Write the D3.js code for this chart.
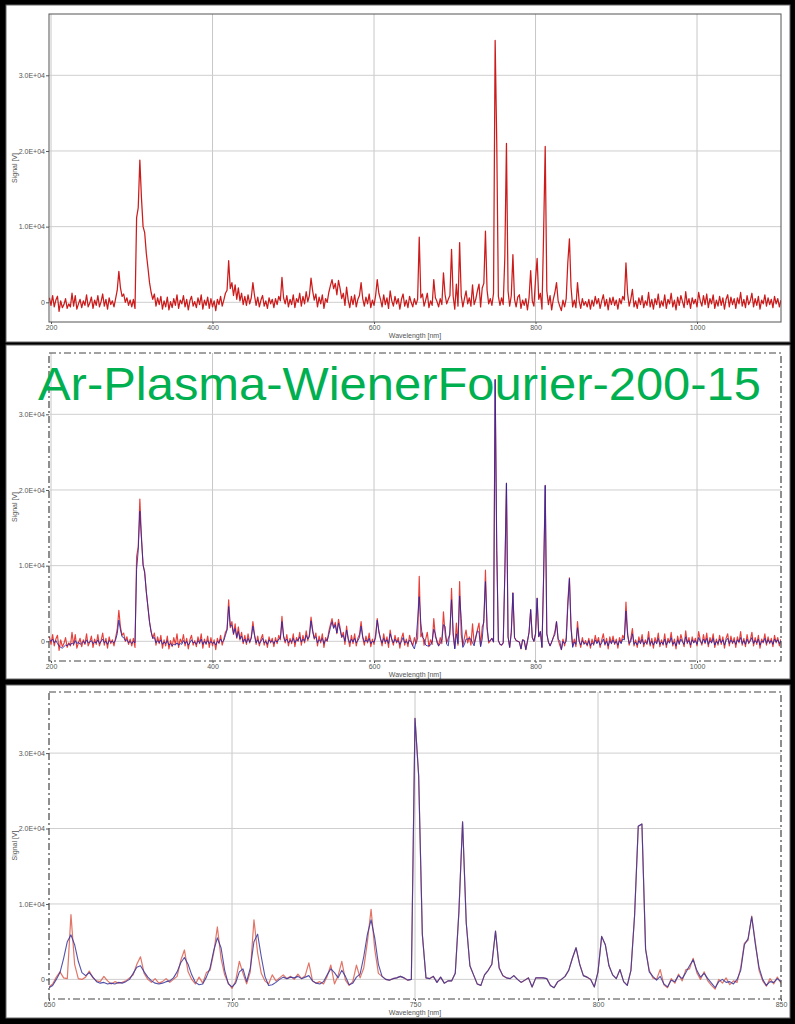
<!DOCTYPE html>
<html><head><meta charset="utf-8">
<script src="https://cdn.jsdelivr.net/npm/d3@7"></script>
<style>html,body{margin:0;padding:0;background:#000;} svg{display:block;}</style>
</head><body>
<svg id="c" width="795" height="1024"></svg>
<script>
// ---------------- DATA (signal in units of 1e3 V) ----------------
// Raw spectrum, 2 nm grid starting at 198 nm
const rawStart = 198, rawStep = 2;
const rawA = [ // 198-396 nm
 0.6,-0.4,0.9,-0.6,0.3,0.8,-1.2,0.2,-0.7,-0.3,0.5,-0.8,-0.2,-0.6,1.2,-0.5,0.9,-0.9,-0.2,0.4,-0.7,0.2,-0.4,1.0,-0.6,
 -0.1,0.7,-0.8,0.3,-0.4,0.9,-0.6,0.1,1.1,-0.5,0.4,-0.9,0.6,-0.3,0.2,-0.6,0.5,1.6,4.1,1.9,0.8,1.1,0.0,0.6,-0.4,
 0.3,-0.6,0.4,-0.8,11.2,12.5,18.8,13.8,10.0,9.2,6.5,4.6,2.6,1.3,0.4,1.1,-0.5,0.6,-0.3,0.8,-0.9,0.2,-0.6,0.7,-1.0,
 0.1,-0.7,0.5,-0.4,1.0,-0.8,0.3,-0.2,0.9,-0.6,0.4,-1.0,0.2,0.8,-0.5,0.1,-0.7,0.6,-0.3,1.0,-0.9,0.3,-0.4,0.7,-0.8];
const rawB = [ // 398-596 nm
 0.5,-0.6,0.2,-1.1,0.4,-0.3,0.8,-0.5,0.3,1.2,1.6,5.5,1.8,2.6,0.9,2.3,0.4,1.9,0.2,1.2,-0.3,0.8,-0.4,1.0,-0.2,
 0.6,2.6,0.9,-0.4,0.7,-0.6,0.3,0.9,-0.5,0.2,-0.8,0.6,-0.2,0.4,-0.7,0.5,-0.3,0.8,0.2,3.3,0.6,-0.2,0.9,-0.6,0.4,
 -0.3,1.0,-0.7,0.5,0.0,1.2,-0.5,0.8,-0.2,1.4,0.1,0.9,3.2,1.5,0.3,1.1,-0.6,0.7,-0.2,1.0,-0.8,0.5,0.0,1.3,2.2,
 3.0,1.8,2.5,1.0,2.9,1.8,0.5,1.2,-0.4,2.0,0.3,-0.7,0.8,-0.3,1.0,-0.6,0.4,0.9,2.6,0.5,-0.5,0.7,-0.2,1.1,-0.7];
const rawC = [ // 598-796 nm
 0.3,-0.4,0.9,3.0,1.2,0.4,-0.6,1.0,-0.3,0.6,-0.8,1.5,0.2,-0.5,0.8,-0.2,0.5,-0.9,0.4,1.1,-0.5,0.3,-0.7,0.8,0.0,
 -0.6,0.5,-0.3,0.4,8.6,0.6,1.1,-0.5,0.3,1.2,-0.7,0.2,-0.4,3.0,0.6,0.1,-0.6,0.5,-0.3,3.9,1.0,-0.2,0.4,0.9,7.0,
 0.8,-0.9,2.4,-0.5,7.9,0.9,-0.6,0.5,1.5,-0.2,0.6,-0.5,2.3,-0.3,0.4,1.5,2.4,-0.6,1.9,2.5,9.4,1.6,-0.2,0.5,-0.4,
 1.2,34.6,21.0,0.8,-0.4,0.6,-0.3,6.0,21.0,1.5,-0.5,0.9,6.3,0.4,-0.6,0.7,1.0,-0.8,0.3,-0.4,0.5,-1.0,0.6,4.2,0.2];
const rawD = [ // 798-996 nm
 -0.5,3.0,5.8,0.4,1.2,-0.9,9.0,20.6,1.5,-0.3,0.9,-1.0,0.4,1.3,2.6,0.2,-0.5,-1.1,0.3,-0.6,0.5,5.3,8.4,2.0,-0.6,
 0.3,-0.7,2.6,0.2,-0.8,0.5,-0.4,0.1,-0.6,0.4,-0.9,0.3,-0.5,0.8,-0.2,0.5,-0.8,0.2,1.0,-0.5,0.4,-1.0,0.6,-0.3,0.7,
 -0.4,0.3,-0.9,0.5,-0.2,0.8,0.3,5.2,1.2,-0.5,0.4,1.7,-0.6,0.2,-0.8,0.6,-0.3,0.9,-0.7,0.2,-0.4,1.3,-0.6,0.4,-0.9,
 0.5,-0.3,1.1,-0.7,0.2,-0.5,1.0,-0.8,0.4,-0.2,1.2,-0.6,0.3,-1.0,0.7,-0.4,0.9,0.1,-0.7,1.4,-0.3,0.5,-0.8,0.6,-0.2];
const rawE = [ // 998-1104 nm
 0.4,-0.6,1.3,0.2,-0.5,0.9,-0.3,1.1,-0.7,0.5,-0.2,1.0,-0.8,0.3,-0.5,0.8,-0.4,0.6,-0.9,0.4,1.0,-0.6,0.7,-0.3,0.5,
 -0.8,0.6,-0.2,1.3,-0.5,0.4,-0.7,0.9,-0.3,0.2,1.2,-0.6,0.5,-0.4,0.8,-0.9,0.3,-0.2,1.0,-0.5,0.6,-0.3,0.4,-0.7,0.8,
 -0.2,0.5,-0.6,0.3];

// Wiener/Fourier filtered spectrum, same 2 nm grid
const filtA = [
 0.2,0.0,0.3,-0.2,0.1,-0.3,-0.6,-0.8,-0.9,-0.7,-0.5,-0.6,-0.3,-0.5,-0.2,-0.4,0.1,-0.3,-0.1,-0.4,-0.2,0.0,-0.3,0.2,-0.2,
 -0.1,0.1,-0.3,-0.1,-0.2,0.2,-0.3,0.0,0.3,-0.2,0.0,-0.4,0.1,-0.1,0.0,-0.2,0.2,1.0,2.8,1.5,0.6,0.5,0.1,0.2,-0.2,
 0.0,-0.3,0.0,-0.2,9.5,12.0,17.2,13.5,10.2,9.0,6.6,4.5,2.5,1.2,0.4,0.5,-0.2,0.1,-0.2,0.2,-0.4,-0.1,-0.3,0.1,-0.5,
 -0.3,-0.6,-0.4,-0.5,-0.2,-0.5,-0.3,-0.4,0.1,-0.3,0.0,-0.5,-0.2,0.2,-0.2,-0.1,-0.4,0.1,-0.2,0.3,-0.4,0.0,-0.3,0.1,-0.3];
const filtB = [
 0.0,-0.3,-0.1,-0.5,0.0,-0.2,0.3,-0.1,0.1,0.8,1.5,4.6,2.0,2.1,1.0,1.7,0.5,1.3,0.3,0.7,-0.1,0.3,-0.2,0.4,-0.1,
 0.4,2.0,0.8,-0.2,0.2,-0.3,0.0,0.4,-0.2,0.0,-0.4,0.2,-0.1,0.1,-0.3,0.1,-0.1,0.3,0.4,2.6,0.7,0.0,0.3,-0.2,0.1,
 -0.1,0.4,-0.2,0.2,0.1,0.6,-0.1,0.3,0.0,0.8,0.3,0.6,2.7,1.3,0.4,0.6,-0.2,0.2,0.0,0.4,-0.3,0.2,0.1,0.9,1.8,
 2.6,1.7,2.2,1.1,2.4,1.5,0.6,0.8,0.0,1.5,0.4,-0.2,0.3,-0.1,0.4,-0.2,0.1,0.5,2.0,0.6,-0.1,0.2,-0.1,0.4,-0.3];
const filtC = [
 0.0,-0.1,0.5,2.8,1.4,0.3,-0.2,0.4,-0.1,0.2,-0.3,1.0,0.3,-0.2,0.3,-0.1,0.1,-0.4,0.0,0.5,-0.2,0.0,-0.3,0.2,-0.1,
 -0.6,-1.0,0.0,2.8,5.9,2.4,0.5,0.3,-0.5,-0.6,-0.6,-0.5,0.0,1.6,1.0,-0.2,-0.6,-0.3,0.2,2.2,2.0,-0.4,-0.6,1.5,5.5,
 1.2,-1.0,1.0,-0.3,6.0,3.0,-0.8,-0.4,0.3,0.3,0.4,0.3,-0.2,-0.6,0.6,1.4,1.2,-0.7,0.3,3.0,7.9,2.0,0.0,0.1,0.4,
 -0.1,34.6,12.0,0.1,-0.4,-0.5,-0.2,9.0,20.9,0.6,-0.8,1.2,6.4,0.5,0.1,0.0,-0.1,-1.0,0.2,0.1,-1.1,0.0,1.2,4.2,0.5];
const filtD = [
 0.0,1.0,5.7,0.6,1.3,-0.8,8.5,20.6,1.0,-0.1,-0.6,-0.1,0.5,0.9,2.6,0.3,0.1,-1.1,0.0,-0.3,0.0,4.6,8.3,1.6,-0.8,
 -0.1,-0.4,1.8,0.0,-0.5,0.1,-0.3,-0.2,-0.5,0.1,-0.6,-0.2,-0.4,0.2,-0.3,0.1,-0.5,-0.2,0.3,-0.4,0.0,-0.6,0.1,-0.3,0.2,
 -0.3,0.0,-0.5,0.1,-0.3,0.3,0.2,4.0,0.8,-0.3,0.0,1.0,-0.4,-0.1,-0.5,0.1,-0.3,0.3,-0.4,-0.1,-0.3,0.5,-0.4,0.0,-0.5,
 0.0,-0.3,0.4,-0.4,-0.1,-0.4,0.3,-0.5,0.0,-0.2,0.5,-0.4,-0.1,-0.6,0.2,-0.3,0.3,-0.1,-0.4,0.6,-0.2,0.1,-0.5,0.2,-0.2];
const filtE = [
 0.1,-0.4,0.5,0.0,-0.3,0.3,-0.2,0.4,-0.4,0.1,-0.2,0.4,-0.5,0.0,-0.3,0.3,-0.2,0.2,-0.5,0.1,0.4,-0.3,0.2,-0.2,0.1,
 -0.4,0.2,-0.1,0.5,-0.3,0.1,-0.4,0.3,-0.2,0.0,0.5,-0.3,0.1,-0.2,0.3,-0.5,0.0,-0.1,0.4,-0.3,0.2,-0.2,0.1,-0.4,0.3,
 -0.1,0.2,-0.3,0.1];
// range where the two traces coincide in the middle panel
const overlapRange = [744, 822];

// Zoomed region, 1 nm grid 650-850 nm
const zoomStart = 650, zoomStep = 1;
const zoomFilt = [
 -1.1,-0.8,0.0,0.9,2.8,5.0,5.9,4.6,2.4,0.9,
 0.5,0.9,0.3,-0.3,-0.5,-0.4,-0.6,-0.5,-0.6,-0.4,
 -0.5,-0.3,0.0,0.8,1.6,1.8,1.0,0.3,-0.2,-0.5,
 -0.6,-0.5,-0.3,-0.2,0.2,1.0,2.2,2.9,2.0,0.6,
 -0.4,-0.7,-0.6,0.3,1.5,3.8,5.5,4.2,1.2,-0.6,
 -1.0,-0.5,1.0,1.4,-0.3,1.5,5.0,6.0,3.0,0.4,
 -0.8,-0.7,-0.4,0.0,0.3,0.1,0.3,0.2,0.4,0.1,
 0.3,0.5,-0.2,-0.5,-0.6,-0.3,0.6,1.4,0.9,0.2,
 1.2,0.4,-0.7,-0.5,0.3,0.7,3.0,6.0,7.9,5.5,
 2.0,0.4,0.0,-0.1,0.1,0.2,0.4,0.2,-0.1,0.0,
 34.6,27.0,6.0,0.2,0.1,0.4,-0.4,0.3,-0.5,-0.2,
 -0.2,0.8,9.0,20.9,7.5,1.8,0.6,-0.6,-0.8,0.6,
 1.2,2.0,6.4,1.5,0.5,0.2,0.1,0.5,0.0,-0.4,
 -0.1,0.2,-1.0,0.2,0.2,0.2,0.1,-0.8,-1.1,-0.3,
 0.0,0.4,1.2,2.8,4.2,2.0,0.5,0.3,0.0,-1.0,
 1.0,5.7,4.6,1.8,0.6,0.1,1.3,-0.3,-0.8,1.2,
 8.5,20.3,20.6,4.0,1.0,0.4,-0.1,0.4,-0.6,-1.0,
 -0.1,-0.3,0.5,0.1,0.9,1.8,2.6,1.2,0.3,0.8,
 0.1,-0.5,-1.1,-0.3,0.0,-0.4,-0.3,-0.6,0.0,1.2,
 4.6,5.4,8.3,4.6,1.6,0.0,-0.8,-0.3,-0.4,0.1,
 -0.3];
const zoomRawLeft = [ // 650-740 nm
 -1.0,-0.6,0.3,1.0,0.2,0.1,8.6,2.0,0.1,0.0,
 0.3,1.1,0.2,-0.2,-0.3,0.4,-0.2,-0.6,-0.3,-0.5,
 -0.4,-0.2,0.2,0.6,2.0,3.0,0.8,0.0,-0.4,0.1,
 -0.5,-0.3,0.1,-0.4,0.0,0.4,2.5,3.9,1.0,0.0,
 -0.6,0.3,-0.5,0.9,1.2,3.5,6.95,2.8,0.6,-0.5,
 -1.2,-0.2,2.4,0.8,-0.6,1.0,7.9,3.5,0.8,-0.2,
 -0.6,0.6,-0.2,0.2,0.6,0.1,0.4,0.0,0.7,0.1,
 0.5,2.2,-0.2,-0.5,-0.3,-0.6,0.4,1.9,-0.6,0.5,
 2.4,-0.1,-0.8,-0.3,1.9,0.2,1.5,5.0,9.3,4.0,
 0.8];
const zoomRawRight = [ // 814-850 nm
 1.2,0.2,0.0,1.3,-0.7,-1.1,0.1,-0.5,0.7,-0.2,
 1.3,1.4,2.8,0.9,0.0,1.0,-0.2,-0.8,-1.3,0.0,
 -0.5,0.2,-0.7,-0.2,-0.4,1.6,4.8,5.2,8.4,4.9,
 1.2,-0.2,-0.9,0.1,-0.6,0.3,-0.5];

const xTicksFull = [200, 400, 600, 800, 1000];
const xTicksZoom = [650, 700, 750, 800, 850];
const yTickValues = [0, 10, 20, 30];
const yTickLabels = ["0", "1.0E+04", "2.0E+04", "3.0E+04"];
const xTitle = "Wavelength [nm]";
const yTitle = "Signal [V]";
const chartTitle = "Ar-Plasma-WienerFourier-200-15";

// ---------------- assemble series ----------------
const raw = [].concat(rawA, rawB, rawC, rawD, rawE);
const filt = [].concat(filtA, filtB, filtC, filtD, filtE);
const raw2 = raw.map((v, i) => {
  const wl = rawStart + i * rawStep;
  return (wl >= overlapRange[0] && wl <= overlapRange[1]) ? filt[i] : v;
});
const zoomRaw = [].concat(zoomRawLeft, zoomFilt.slice(91, 164), zoomRawRight);

// ---------------- drawing ----------------
const svg = d3.select('#c');
svg.append('rect').attr('width', 795).attr('height', 1024).attr('fill', '#000');

const font = "'Liberation Sans', Arial, sans-serif";
const yDomain = [-2.6, 38.1];

const panels = [
  {bg: [6, 5, 784, 337], l: 49, r: 781, t: 14, b: 322, xd: [197.5, 1104], xt: xTicksFull, dash: false,
   series: [{d: raw, s: rawStart, st: rawStep, c: '#cc1b1b', w: 1.25, o: 1}]},
  {bg: [6, 345, 784, 334], l: 49, r: 781, t: 353, b: 661, xd: [197.5, 1104], xt: xTicksFull, dash: true,
   series: [{d: raw2, s: rawStart, st: rawStep, c: '#e42a24', w: 1.15, o: 0.9},
            {d: filt, s: rawStart, st: rawStep, c: '#2626a8', w: 1.0, o: 0.85}]},
  {bg: [6, 685, 784, 333], l: 49, r: 781, t: 692, b: 999, xd: [650, 850], xt: xTicksZoom, dash: true,
   series: [{d: zoomRaw, s: zoomStart, st: zoomStep, c: '#de6656', w: 1.2, o: 0.9},
            {d: zoomFilt, s: zoomStart, st: zoomStep, c: '#34349c', w: 1.1, o: 0.85}]}
];

panels.forEach((p, pi) => {
  const g = svg.append('g');
  g.append('rect').attr('x', p.bg[0]).attr('y', p.bg[1]).attr('width', p.bg[2]).attr('height', p.bg[3])
    .attr('fill', '#fff').attr('stroke', '#666').attr('stroke-width', 1);
  const x = d3.scaleLinear().domain(p.xd).range([p.l, p.r]);
  const y = d3.scaleLinear().domain(yDomain).range([p.b, p.t]);

  // grid
  g.append('g').selectAll('line').data(p.xt.filter(v => v > p.xd[0] && v < p.xd[1])).join('line')
    .attr('x1', d => x(d)).attr('x2', d => x(d)).attr('y1', p.t).attr('y2', p.b)
    .attr('stroke', '#c8c8c8').attr('stroke-width', 1);
  g.append('g').selectAll('line').data(yTickValues).join('line')
    .attr('x1', p.l).attr('x2', p.r).attr('y1', d => y(d)).attr('y2', d => y(d))
    .attr('stroke', '#cfcfcf').attr('stroke-width', 1);

  // series
  const cid = 'clip' + pi;
  svg.append('clipPath').attr('id', cid).append('rect')
    .attr('x', p.l).attr('y', p.t).attr('width', p.r - p.l).attr('height', p.b - p.t);
  p.series.forEach(s => {
    const line = d3.line().x((d, i) => x(s.s + i * s.st)).y(d => y(d));
    g.append('path').datum(s.d).attr('d', line).attr('fill', 'none')
      .attr('stroke', s.c).attr('stroke-width', s.w).attr('stroke-opacity', s.o)
      .attr('stroke-linejoin', 'round').attr('clip-path', `url(#${cid})`);
  });

  // frame
  g.append('rect').attr('x', p.l).attr('y', p.t).attr('width', p.r - p.l).attr('height', p.b - p.t)
    .attr('fill', 'none').attr('stroke', p.dash ? '#444' : '#555')
    .attr('stroke-width', p.dash ? 1.2 : 1)
    .attr('stroke-dasharray', p.dash ? '7,3,2,3' : null);

  // axes
  const ya = d3.axisLeft(y).tickValues(yTickValues).tickFormat((d, i) => yTickLabels[i]).tickSize(3).tickPadding(1);
  const yg = g.append('g').attr('transform', `translate(${p.l},0)`).call(ya);
  yg.select('.domain').remove();
  yg.selectAll('line').attr('stroke', '#555');
  yg.selectAll('text').attr('font-family', font).attr('font-size', 7).attr('fill', '#555');

  const xa = d3.axisBottom(x).tickValues(p.xt).tickFormat(d3.format('d')).tickSize(2).tickPadding(1);
  const xg = g.append('g').attr('transform', `translate(0,${p.b})`).call(xa);
  xg.select('.domain').remove();
  xg.selectAll('line').attr('stroke', '#555');
  xg.selectAll('text').attr('font-family', font).attr('font-size', 7).attr('fill', '#555');

  g.append('text').attr('x', (p.l + p.r) / 2).attr('y', p.b + 15.5).attr('text-anchor', 'middle')
    .attr('font-family', font).attr('font-size', 7).attr('fill', '#555').text(xTitle);
  g.append('text').attr('transform', `translate(17,${(p.t + p.b) / 2}) rotate(-90)`).attr('text-anchor', 'middle')
    .attr('font-family', font).attr('font-size', 7).attr('fill', '#555').text(yTitle);
});

// title overlay on middle panel
svg.append('text').attr('x', 38).attr('y', 400).attr('font-family', font).attr('font-size', 46)
  .attr('fill', '#00b050').attr('textLength', 723).attr('lengthAdjust', 'spacingAndGlyphs').text(chartTitle);
</script>
</body></html>
